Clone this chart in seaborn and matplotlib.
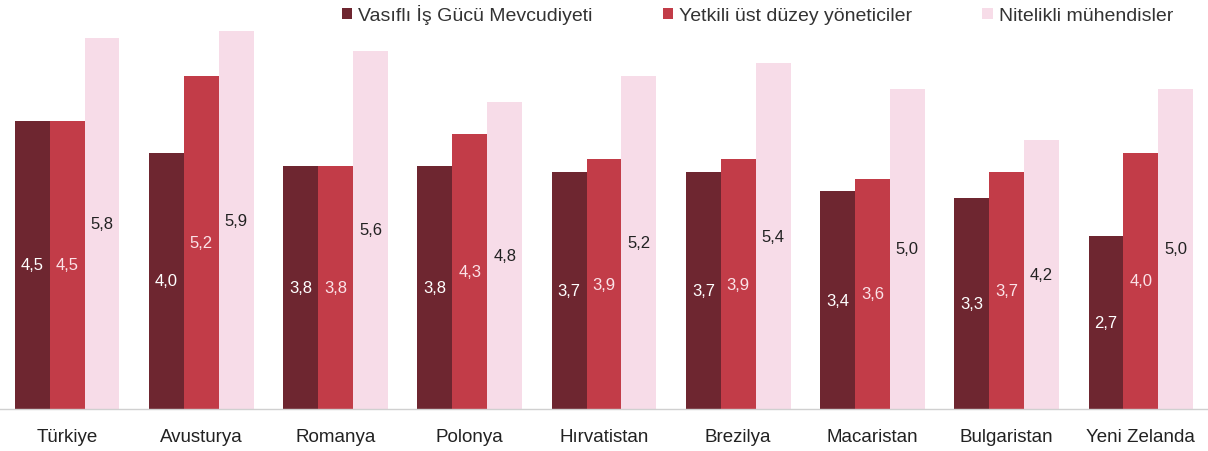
import matplotlib
matplotlib.use("Agg")
import matplotlib.pyplot as plt
import seaborn as sns
import pandas as pd

countries = ["Türkiye", "Avusturya", "Romanya", "Polonya", "Hırvatistan",
             "Brezilya", "Macaristan", "Bulgaristan", "Yeni Zelanda"]
series_names = ["Vasıflı İş Gücü Mevcudiyeti", "Yetkili üst düzey yöneticiler",
                "Nitelikli mühendisler"]
vasifli = [4.5, 4.0, 3.8, 3.8, 3.7, 3.7, 3.4, 3.3, 2.7]
yetkili = [4.5, 5.2, 3.8, 4.3, 3.9, 3.9, 3.6, 3.7, 4.0]
nitelikli = [5.8, 5.9, 5.6, 4.8, 5.2, 5.4, 5.0, 4.2, 5.0]

colors = ["#6e2630", "#c23c48", "#f7dce8"]
text_colors = ["white", "#fbe3e8", "#222222"]

df = pd.DataFrame({
    "country": countries * 3,
    "series": [series_names[0]] * 9 + [series_names[1]] * 9 + [series_names[2]] * 9,
    "value": vasifli + yetkili + nitelikli,
})

sns.set_theme(style="white")
plt.rcParams["font.family"] = ["Liberation Sans", "DejaVu Sans"]

fig = plt.figure(figsize=(12.08, 4.52), dpi=100)
ax = fig.add_axes([0.0, 0.093, 1.0, 0.885])

sns.barplot(data=df, x="country", y="value", hue="series", order=countries,
            hue_order=series_names, palette=colors, width=0.78, gap=0,
            saturation=1, linewidth=0, ax=ax, legend=True)

for cont, tc in zip(ax.containers, text_colors):
    labels = [f"{b.get_height():.1f}".replace(".", ",") for b in cont]
    ax.bar_label(cont, labels=labels, label_type="center", color=tc, fontsize=12)

ax.set_xlim(-0.5, len(countries) - 0.5)
ax.set_ylim(0, 6.25)
ax.set_xlabel("")
ax.set_ylabel("")
ax.set_yticks([])
ax.tick_params(axis="x", labelsize=13.5, colors="#222222", pad=14, length=0)
for s in ["top", "left", "right"]:
    ax.spines[s].set_visible(False)
ax.spines["bottom"].set_color("#d0d0d0")
ax.spines["bottom"].set_linewidth(1)

handles, labs = ax.get_legend_handles_labels()
ax.legend(handles, labs, loc="center", bbox_to_anchor=(0.627, 0.966),
          bbox_transform=fig.transFigure, ncol=3, frameon=False,
          fontsize=14, handlelength=0.55, handleheight=0.55, handletextpad=0.3,
          columnspacing=3.6, labelcolor="#333333", borderpad=0.1)

fig.savefig("out.png", dpi=100)
